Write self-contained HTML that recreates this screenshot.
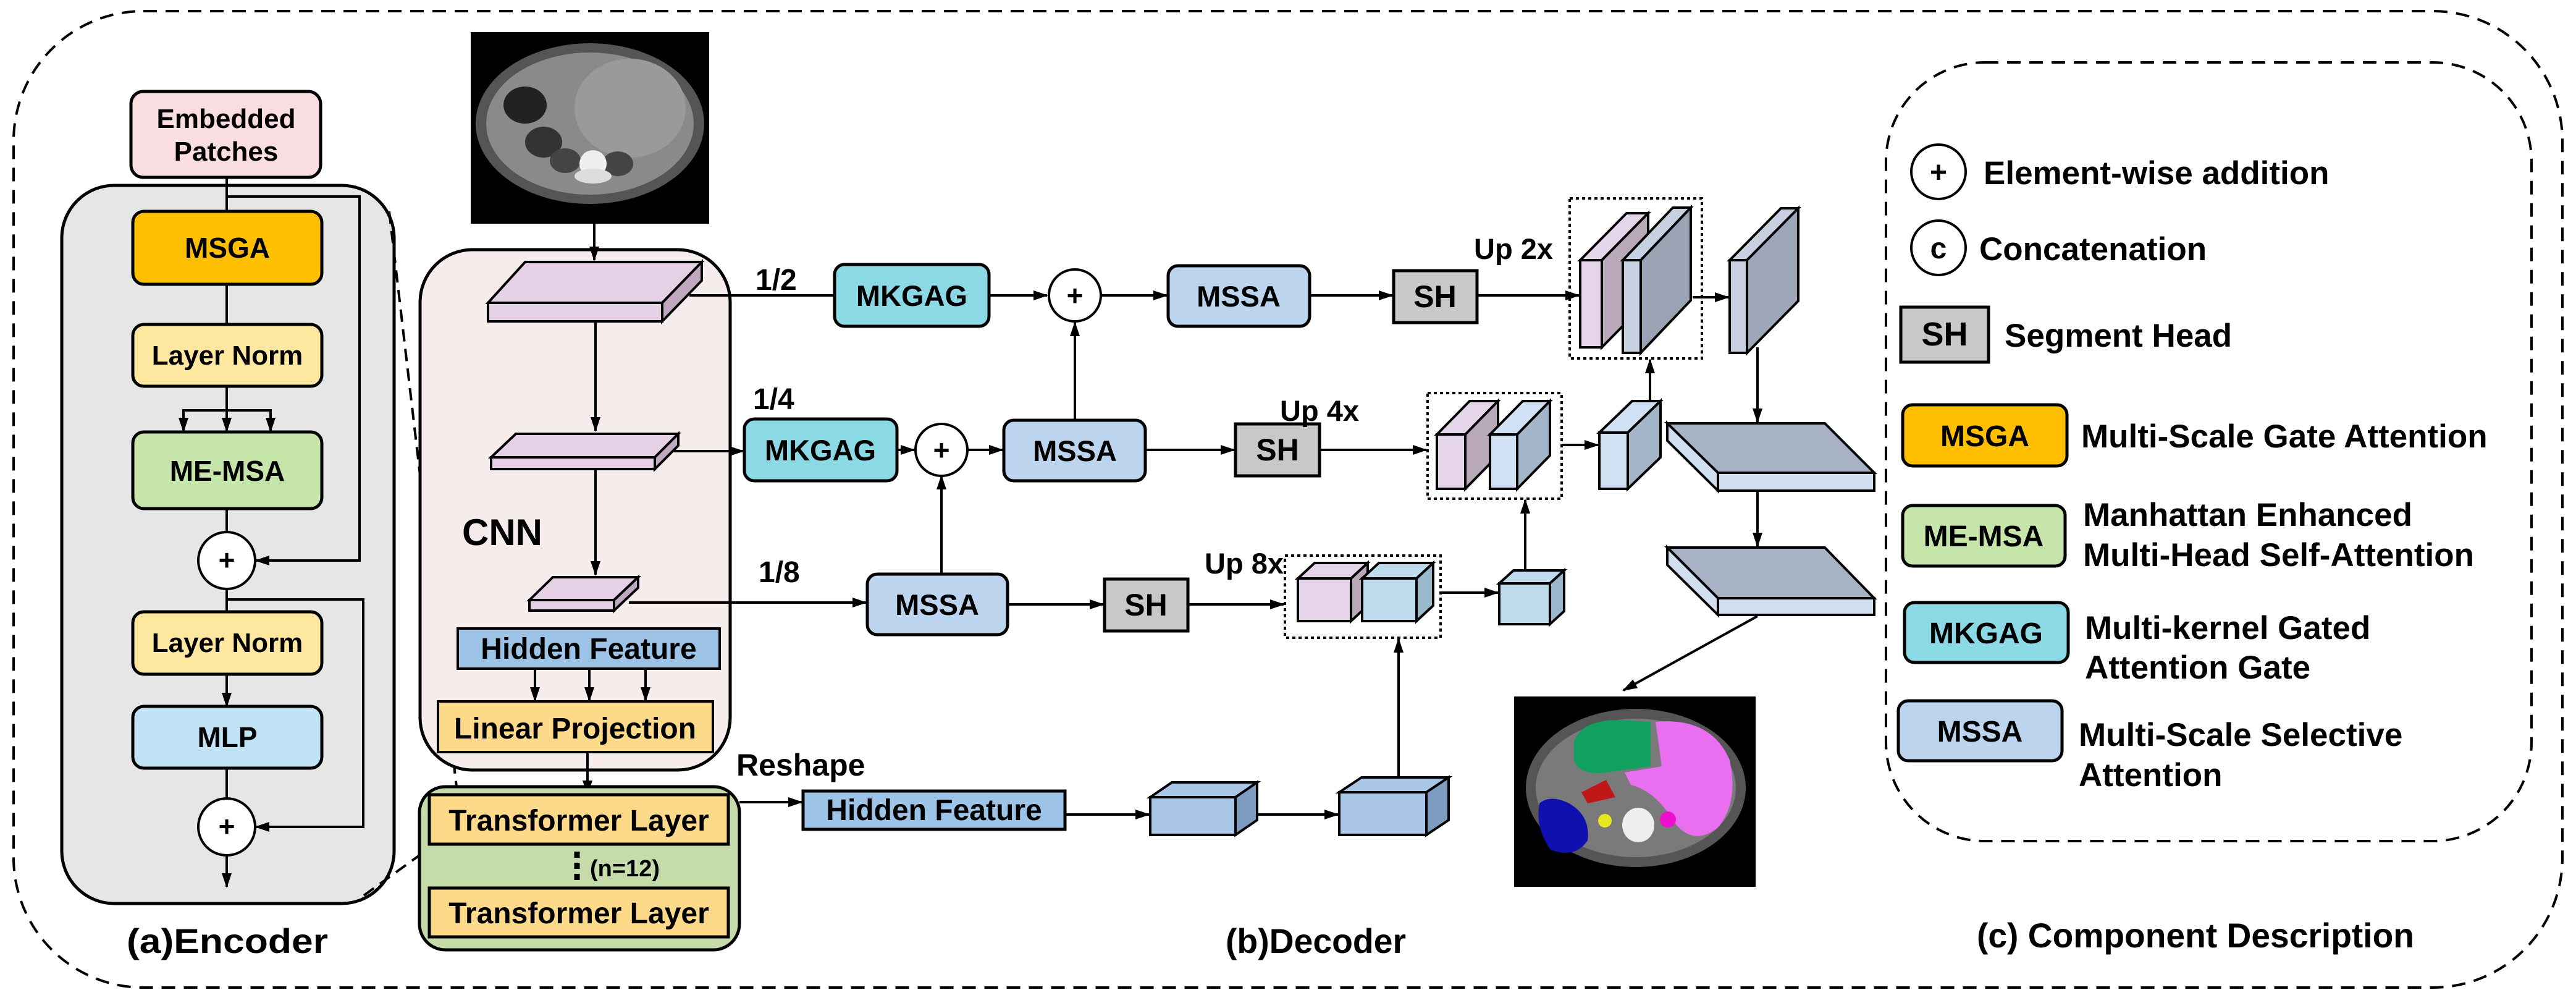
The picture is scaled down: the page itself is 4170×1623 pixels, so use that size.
<!DOCTYPE html>
<html><head><meta charset="utf-8"><style>
html,body{margin:0;padding:0;background:#fff}
svg{display:block}
text{font-family:"Liberation Sans",Arial,sans-serif;font-weight:bold;fill:#000}
</style></head><body>
<svg width="4170" height="1623" viewBox="0 0 4170 1623" xmlns="http://www.w3.org/2000/svg">
<defs>
<marker id="a" markerWidth="24" markerHeight="20" refX="22" refY="10" orient="auto" markerUnits="userSpaceOnUse"><path d="M0,2 L24,10 L0,18 Z" fill="#000"/></marker>
</defs>
<g stroke="#000" stroke-width="5" fill="none">
<rect x="22" y="18" width="4126" height="1580" rx="210" stroke-dasharray="22,14" stroke-width="4"/>
<rect x="3053" y="101" width="1045" height="1260" rx="160" stroke-dasharray="22,14" stroke-width="4"/>
</g>

<!-- ENCODER -->
<g stroke="#000" stroke-width="5">
<rect x="100" y="300" width="538" height="1162" rx="85" fill="#e6e6e6"/>
<rect x="212" y="148" width="307" height="139" rx="20" fill="#fadde0"/>
<rect x="215" y="342" width="306" height="118" rx="18" fill="#fdbf00"/>
<rect x="215" y="525" width="306" height="100" rx="18" fill="#fee8a0"/>
<rect x="215" y="699" width="306" height="124" rx="18" fill="#c5e5ab"/>
<rect x="215" y="990" width="306" height="101" rx="18" fill="#fee8a0"/>
<rect x="215" y="1143" width="306" height="100" rx="18" fill="#c0e2f4"/>
</g>
<g stroke="#000" stroke-width="4" fill="none">
<line x1="367" y1="287" x2="367" y2="342"/>
<line x1="367" y1="460" x2="367" y2="525"/>
<line x1="367" y1="625" x2="367" y2="664"/>
<polyline points="297,697 297,664 438,664 438,697" />
<line x1="297" y1="680" x2="297" y2="698" marker-end="url(#a)"/>
<line x1="367" y1="664" x2="367" y2="698" marker-end="url(#a)"/>
<line x1="438" y1="680" x2="438" y2="698" marker-end="url(#a)"/>
<line x1="367" y1="823" x2="367" y2="861"/>
<polyline points="367,318 582,318 582,907 414,907" marker-end="url(#a)"/>
<line x1="367" y1="953" x2="367" y2="990"/>
<polyline points="367,970 588,970 588,1338 414,1338" marker-end="url(#a)"/>
<line x1="367" y1="1091" x2="367" y2="1143" marker-end="url(#a)"/>
<line x1="367" y1="1243" x2="367" y2="1292"/>
<line x1="367" y1="1384" x2="367" y2="1435" marker-end="url(#a)"/>
</g>
<circle cx="367" cy="907" r="46" fill="#fff" stroke="#000" stroke-width="4"/>
<circle cx="367" cy="1338" r="46" fill="#fff" stroke="#000" stroke-width="4"/>
<text x="367" y="922" font-size="46" text-anchor="middle" fill="#666">+</text>
<text x="367" y="1353" font-size="46" text-anchor="middle" fill="#666">+</text>
<g font-size="44" text-anchor="middle">
<text x="366" y="207">Embedded</text>
<text x="366" y="260">Patches</text>
<text x="368" y="417" font-size="46">MSGA</text>
<text x="368" y="590">Layer Norm</text>
<text x="368" y="778" font-size="46">ME-MSA</text>
<text x="368" y="1055">Layer Norm</text>
<text x="368" y="1209" font-size="46">MLP</text>
</g>
<text x="205" y="1542" font-size="56" textLength="326" lengthAdjust="spacingAndGlyphs">(a)Encoder</text>
<g stroke="#000" stroke-width="4" stroke-dasharray="20,12" fill="none">
<line x1="630" y1="342" x2="739" y2="1273"/>
<line x1="589" y1="1449" x2="697" y2="1371"/>
</g>

<!-- CT image 1 -->
<rect x="762" y="52" width="386" height="310" fill="#000"/>
<ellipse cx="955" cy="200" rx="185" ry="130" fill="#555"/>
<ellipse cx="955" cy="200" rx="168" ry="115" fill="#8a8a8a"/>
<ellipse cx="1020" cy="175" rx="90" ry="80" fill="#9a9a9a"/>
<ellipse cx="850" cy="170" rx="35" ry="30" fill="#222"/>
<ellipse cx="880" cy="230" rx="30" ry="25" fill="#333"/>
<ellipse cx="915" cy="260" rx="25" ry="20" fill="#444"/>
<ellipse cx="1000" cy="265" rx="25" ry="20" fill="#444"/>
<ellipse cx="960" cy="265" rx="22" ry="22" fill="#eee"/>
<ellipse cx="960" cy="285" rx="30" ry="12" fill="#ddd"/>

<!-- CNN box -->
<rect x="680" y="404" width="502" height="842" rx="85" fill="#f6ecec" stroke="#000" stroke-width="5"/>
<line x1="962" y1="362" x2="962" y2="421" stroke="#000" stroke-width="4" marker-end="url(#a)"/>
<g stroke="#000" stroke-width="4">
<polygon points="790,490 850,424 1136,424 1072,490" fill="#e6d0e6"/>
<rect x="790" y="490" width="282" height="30" fill="#e6d0e6"/>
<polygon points="1072,490 1136,424 1136,454 1072,520" fill="#c0a8c0"/>
<polygon points="795,740 835,702 1098,702 1060,740" fill="#e6d0e6"/>
<rect x="795" y="740" width="265" height="19" fill="#e6d0e6"/>
<polygon points="1060,740 1098,702 1098,721 1060,759" fill="#c0a8c0"/>
<polygon points="857,971 895,934 1033,934 994,971" fill="#e6d0e6"/>
<rect x="857" y="971" width="137" height="17" fill="#e6d0e6"/>
<polygon points="994,971 1033,934 1033,951 994,988" fill="#c0a8c0"/>
<rect x="741" y="1017" width="424" height="65" fill="#9dc3e6"/>
<rect x="709" y="1135" width="445" height="82" fill="#fdd98a"/>
</g>
<g stroke="#000" stroke-width="4" fill="none">
<line x1="964" y1="520" x2="964" y2="697" marker-end="url(#a)"/>
<line x1="964" y1="759" x2="964" y2="930" marker-end="url(#a)"/>
<line x1="866" y1="1082" x2="866" y2="1134" marker-end="url(#a)"/>
<line x1="954" y1="1082" x2="954" y2="1134" marker-end="url(#a)"/>
<line x1="1045" y1="1082" x2="1045" y2="1134" marker-end="url(#a)"/>
<line x1="951" y1="1217" x2="951" y2="1285" marker-end="url(#a)"/>
</g>
<text x="748" y="882" font-size="60">CNN</text>
<text x="953" y="1066" font-size="48" text-anchor="middle">Hidden Feature</text>
<text x="931" y="1195" font-size="48" text-anchor="middle">Linear Projection</text>

<!-- transformer group -->
<rect x="679" y="1273" width="518" height="264" rx="42" fill="#c5dba9" stroke="#000" stroke-width="5"/>
<rect x="695" y="1286" width="484" height="80" fill="#fdd98a" stroke="#000" stroke-width="5"/>
<rect x="695" y="1437" width="484" height="79" fill="#fdd98a" stroke="#000" stroke-width="5"/>
<line x1="934" y1="1378" x2="934" y2="1428" stroke="#000" stroke-width="9" stroke-dasharray="10,8"/>
<text x="937" y="1344" font-size="48" text-anchor="middle">Transformer Layer</text>
<text x="937" y="1494" font-size="48" text-anchor="middle">Transformer Layer</text>
<text x="955" y="1418" font-size="38">(n=12)</text>

<!-- decoder -->
<text x="1192" y="1255" font-size="50">Reshape</text>
<text x="1223" y="469" font-size="48">1/2</text>
<text x="1219" y="662" font-size="48">1/4</text>
<text x="1228" y="942" font-size="48">1/8</text>
<g stroke="#000" stroke-width="4" fill="none">
<line x1="1116" y1="478" x2="1351" y2="478"/>
<line x1="1091" y1="730" x2="1203" y2="730" marker-end="url(#a)"/>
<line x1="1018" y1="975" x2="1402" y2="975" marker-end="url(#a)"/>
<line x1="1197" y1="1298" x2="1298" y2="1298" marker-end="url(#a)"/>
<line x1="1601" y1="478" x2="1695" y2="478" marker-end="url(#a)"/>
<line x1="1782" y1="478" x2="1889" y2="478" marker-end="url(#a)"/>
<line x1="2120" y1="478" x2="2254" y2="478" marker-end="url(#a)"/>
<line x1="2391" y1="478" x2="2556" y2="478" marker-end="url(#a)"/>
<line x1="1740" y1="684" x2="1740" y2="522" marker-end="url(#a)"/>
<line x1="1452" y1="728" x2="1480" y2="728" marker-end="url(#a)"/>
<line x1="1566" y1="728" x2="1623" y2="728" marker-end="url(#a)"/>
<line x1="1854" y1="728" x2="1998" y2="728" marker-end="url(#a)"/>
<line x1="2136" y1="728" x2="2309" y2="728" marker-end="url(#a)"/>
<line x1="1524" y1="927" x2="1524" y2="770" marker-end="url(#a)"/>
<line x1="1631" y1="978" x2="1786" y2="978" marker-end="url(#a)"/>
<line x1="1923" y1="978" x2="2078" y2="978" marker-end="url(#a)"/>
<line x1="1724" y1="1318" x2="1860" y2="1318" marker-end="url(#a)"/>
<line x1="2035" y1="1318" x2="2166" y2="1318" marker-end="url(#a)"/>
<line x1="2264" y1="1256" x2="2264" y2="1034" marker-end="url(#a)"/>
<line x1="2332" y1="959" x2="2425" y2="959" marker-end="url(#a)"/>
<line x1="2469" y1="922" x2="2469" y2="809" marker-end="url(#a)"/>
<line x1="2528" y1="720" x2="2587" y2="720" marker-end="url(#a)"/>
<line x1="2671" y1="648" x2="2671" y2="582" marker-end="url(#a)"/>
<line x1="2740" y1="481" x2="2798" y2="481" marker-end="url(#a)"/>
<line x1="2845" y1="562" x2="2845" y2="683" marker-end="url(#a)"/>
<line x1="2845" y1="794" x2="2845" y2="884" marker-end="url(#a)"/>
<line x1="2845" y1="997" x2="2628" y2="1117" marker-end="url(#a)"/>
</g>
<g stroke="#000" stroke-width="5">
<rect x="1351" y="428" width="250" height="100" rx="16" fill="#8ad9e4"/>
<rect x="1891" y="430" width="229" height="98" rx="16" fill="#bdd4ee"/>
<rect x="2256" y="438" width="135" height="84" fill="#c8c8c8"/>
<rect x="1205" y="678" width="247" height="100" rx="16" fill="#8ad9e4"/>
<rect x="1625" y="680" width="229" height="98" rx="16" fill="#bdd4ee"/>
<rect x="2000" y="686" width="136" height="84" fill="#c8c8c8"/>
<rect x="1404" y="929" width="227" height="98" rx="16" fill="#bdd4ee"/>
<rect x="1788" y="937" width="135" height="84" fill="#c8c8c8"/>
<rect x="1300" y="1280" width="424" height="62" fill="#9dc3e6"/>
</g>
<circle cx="1740" cy="478" r="42" fill="#fff" stroke="#000" stroke-width="4"/>
<circle cx="1524" cy="728" r="42" fill="#fff" stroke="#000" stroke-width="4"/>
<text x="1740" y="494" font-size="46" text-anchor="middle">+</text>
<text x="1524" y="744" font-size="46" text-anchor="middle">+</text>
<g font-size="47" text-anchor="middle">
<text x="1476" y="495">MKGAG</text>
<text x="2005" y="496">MSSA</text>
<text x="2323" y="497" font-size="50">SH</text>
<text x="1328" y="745">MKGAG</text>
<text x="1740" y="746">MSSA</text>
<text x="2068" y="745" font-size="50">SH</text>
<text x="1517" y="995">MSSA</text>
<text x="1855" y="996" font-size="50">SH</text>
<text x="1512" y="1327" font-size="48">Hidden Feature</text>
</g>
<text x="2386" y="419" font-size="47">Up 2x</text>
<text x="2072" y="681" font-size="47">Up 4x</text>
<text x="1950" y="928" font-size="47">Up 8x</text>
<g stroke="#000" stroke-width="4" fill="none" stroke-dasharray="5,5">
<rect x="2541" y="321" width="214" height="259"/>
<rect x="2311" y="636" width="217" height="171"/>
<rect x="2080" y="899" width="252" height="133"/>
</g>
<g stroke="#000" stroke-width="4">
<polygon points="2558,421 2633,345 2668,345 2593,421" fill="#e6d5ea"/>
<polygon points="2593,421 2668,345 2668,486 2593,562" fill="#b8a8b8"/>
<rect x="2558" y="421" width="35" height="141" fill="#e6d5ea"/>
<polygon points="2627,421 2708,336 2737,336 2656,421" fill="#c5d0e0"/>
<polygon points="2656,421 2737,336 2737,486 2656,571" fill="#9aa3b3"/>
<rect x="2627" y="421" width="29" height="150" fill="#c5d0e0"/>
<polygon points="2800,421 2883,337 2911,337 2828,421" fill="#c7cfe0"/>
<polygon points="2828,421 2911,337 2911,487 2828,571" fill="#9ea7b8"/>
<rect x="2800" y="421" width="28" height="150" fill="#c7cfe0"/>
<polygon points="2326,703 2379,649 2425,649 2372,703" fill="#e6d5ea"/>
<polygon points="2372,703 2425,649 2425,737 2372,791" fill="#b8a8b8"/>
<rect x="2326" y="703" width="46" height="88" fill="#e6d5ea"/>
<polygon points="2412,703 2465,649 2509,649 2456,703" fill="#cfe1f3"/>
<polygon points="2456,703 2509,649 2509,737 2456,791" fill="#a3b5c8"/>
<rect x="2412" y="703" width="44" height="88" fill="#cfe1f3"/>
<polygon points="2589,700 2642,649 2688,649 2635,700" fill="#cfe1f3"/>
<polygon points="2635,700 2688,649 2688,740 2635,791" fill="#a3b5c8"/>
<rect x="2589" y="700" width="46" height="91" fill="#cfe1f3"/>
<polygon points="2427,944 2450,923 2532,923 2509,944" fill="#bfdcee"/>
<polygon points="2509,944 2532,923 2532,989 2509,1010" fill="#9ab8cc"/>
<rect x="2427" y="944" width="82" height="66" fill="#bfdcee"/>
<polygon points="2101,936 2128,911 2214,911 2187,936" fill="#e6d5ea"/>
<polygon points="2187,936 2214,911 2214,980 2187,1005" fill="#b8a8b8"/>
<rect x="2101" y="936" width="86" height="69" fill="#e6d5ea"/>
<polygon points="2205,936 2232,911 2320,911 2293,936" fill="#bfdcee"/>
<polygon points="2293,936 2320,911 2320,980 2293,1005" fill="#9ab8cc"/>
<rect x="2205" y="936" width="88" height="69" fill="#bfdcee"/>
<polygon points="1862,1290 1897,1266 2035,1266 2000,1290" fill="#a9c6e6"/>
<polygon points="2000,1290 2035,1266 2035,1327 2000,1351" fill="#7d9cc0"/>
<rect x="1862" y="1290" width="138" height="61" fill="#a9c6e6"/>
<polygon points="2168,1282 2204,1258 2345,1258 2309,1282" fill="#a9c6e6"/>
<polygon points="2309,1282 2345,1258 2345,1327 2309,1351" fill="#7d9cc0"/>
<rect x="2168" y="1282" width="141" height="69" fill="#a9c6e6"/>
<polygon points="2699,685 2954,685 3034,765 2781,765" fill="#a7b2c4"/>
<polygon points="2699,685 2781,765 2781,794 2699,713" fill="#cfdff0"/>
<rect x="2781" y="765" width="253" height="29" fill="#cfdff0"/>
<polygon points="2699,886 2954,886 3034,968 2781,968" fill="#a7b2c4"/>
<polygon points="2699,886 2781,968 2781,995 2699,914" fill="#cfdff0"/>
<rect x="2781" y="968" width="253" height="27" fill="#cfdff0"/>
</g>
<!-- CT image 2 -->
<rect x="2451" y="1127" width="391" height="308" fill="#000"/>
<ellipse cx="2648" cy="1275" rx="178" ry="128" fill="#555"/>
<ellipse cx="2648" cy="1275" rx="162" ry="112" fill="#7a7a7a"/>
<path d="M2548,1200 Q2560,1165 2620,1165 L2672,1168 L2672,1240 L2600,1250 Q2555,1255 2548,1230 Z" fill="#12a060"/>
<path d="M2680,1168 Q2770,1160 2800,1230 Q2815,1300 2780,1340 Q2740,1370 2710,1330 Q2680,1280 2640,1270 L2630,1250 L2690,1240 Z" fill="#ea6ff0"/>
<path d="M2492,1300 Q2510,1285 2540,1300 Q2575,1320 2570,1360 Q2550,1390 2510,1375 Q2485,1340 2492,1300 Z" fill="#1010b0"/>
<path d="M2560,1282 L2600,1262 L2615,1290 L2570,1300 Z" fill="#c01818"/>
<circle cx="2598" cy="1328" r="11" fill="#e8e820"/>
<circle cx="2700" cy="1326" r="13" fill="#ee10cc"/>
<ellipse cx="2652" cy="1335" rx="26" ry="28" fill="#eee"/>
<text x="1984" y="1542" font-size="56" textLength="292" lengthAdjust="spacingAndGlyphs">(b)Decoder</text>

<!-- LEGEND -->
<circle cx="3138" cy="278" r="44" fill="#fff" stroke="#000" stroke-width="4"/>
<text x="3138" y="295" font-size="48" text-anchor="middle">+</text>
<circle cx="3138" cy="401" r="44" fill="#fff" stroke="#000" stroke-width="4"/>
<text x="3138" y="418" font-size="48" text-anchor="middle">c</text>
<g stroke="#000" stroke-width="5">
<rect x="3077" y="497" width="142" height="89" fill="#c8c8c8"/>
<rect x="3080" y="655" width="266" height="99" rx="16" fill="#fdbf00"/>
<rect x="3080" y="818" width="263" height="98" rx="16" fill="#c5e5ab"/>
<rect x="3083" y="975" width="265" height="97" rx="16" fill="#8ad9e4"/>
<rect x="3073" y="1134" width="265" height="97" rx="16" fill="#bdd4ee"/>
</g>
<g font-size="48" text-anchor="middle">
<text x="3148" y="559" font-size="54">SH</text>
<text x="3213" y="722">MSGA</text>
<text x="3211" y="884">ME-MSA</text>
<text x="3215" y="1041">MKGAG</text>
<text x="3205" y="1200">MSSA</text>
</g>
<g font-size="53">
<text x="3211" y="298">Element-wise addition</text>
<text x="3204" y="421">Concatenation</text>
<text x="3245" y="561">Segment Head</text>
<text x="3369" y="724">Multi-Scale Gate Attention</text>
<text x="3372" y="851">Manhattan Enhanced</text>
<text x="3372" y="916">Multi-Head Self-Attention</text>
<text x="3375" y="1034">Multi-kernel Gated</text>
<text x="3375" y="1098">Attention Gate</text>
<text x="3365" y="1207">Multi-Scale Selective</text>
<text x="3365" y="1272">Attention</text>
<text x="3200" y="1533" font-size="56" textLength="708" lengthAdjust="spacingAndGlyphs">(c) Component Description</text>
</g>
</svg>
</body></html>
